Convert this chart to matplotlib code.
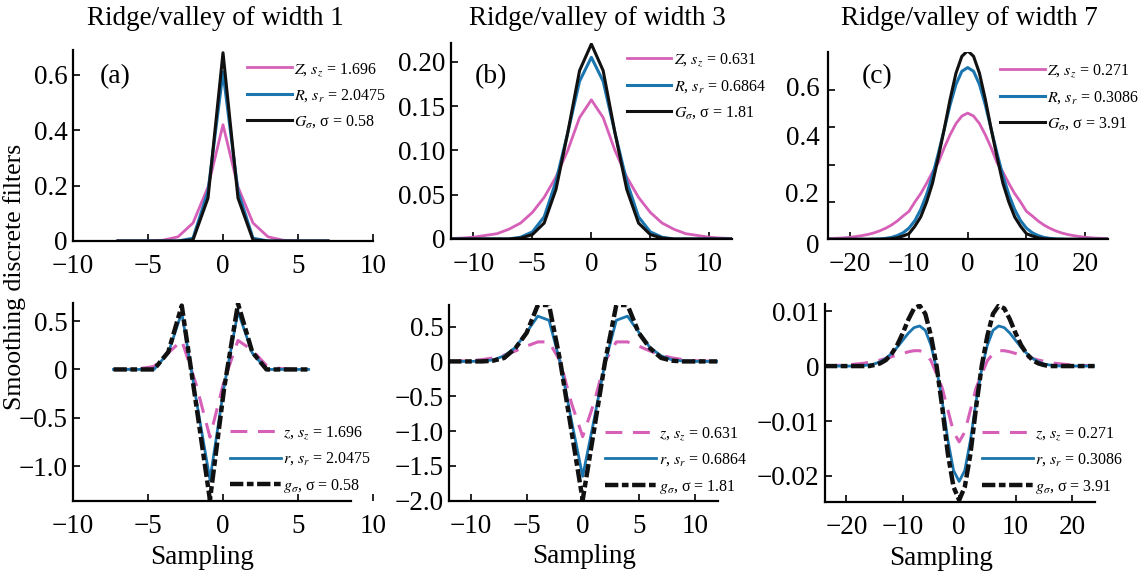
import numpy as np
import matplotlib.pyplot as plt

plt.rcParams['font.family'] = ['Liberation Serif', 'DejaVu Serif']
plt.rcParams['mathtext.fontset'] = 'stix'

PINK = '#d660b8'
BLUE = '#1b75ae'
BLACK = '#111111'

# ---- top row: smoothing filters ----
x_a = list(range(-7, 8))
Z_a = [0, 0, 0, 0.003, 0.015, 0.065, 0.195, 0.42, 0.195, 0.065, 0.015, 0.003, 0, 0, 0]
R_a = [0, 0, 0, 0, 0, 0.01, 0.18, 0.61, 0.18, 0.01, 0, 0, 0, 0, 0]
G_a = [0, 0, 0, 0, 0, 0.004, 0.155, 0.68, 0.155, 0.004, 0, 0, 0, 0, 0]

x_b = list(range(-12, 13))
Z_b = [0.0005, 0.001, 0.002, 0.004, 0.006, 0.011, 0.018, 0.03, 0.047, 0.07, 0.1, 0.137, 0.157,
       0.137, 0.1, 0.07, 0.047, 0.03, 0.018, 0.011, 0.006, 0.004, 0.002, 0.001, 0.0005]
R_b = [0, 0, 0, 0, 0, 0, 0.002, 0.008, 0.025, 0.065, 0.12, 0.178, 0.205,
       0.178, 0.12, 0.065, 0.025, 0.008, 0.002, 0, 0, 0, 0, 0, 0]
G_b = [0, 0, 0, 0, 0, 0, 0.001, 0.005, 0.018, 0.056, 0.12, 0.19, 0.22,
       0.19, 0.12, 0.056, 0.018, 0.005, 0.001, 0, 0, 0, 0, 0, 0]

x_c = list(range(-24, 25))
Z_c = [0.0004, 0.0005, 0.0006, 0.0008, 0.0011, 0.0015, 0.002, 0.0026, 0.0034, 0.0045, 0.0059,
       0.0076, 0.0098, 0.0125, 0.015, 0.02, 0.0245, 0.03, 0.036, 0.041, 0.049, 0.056, 0.062, 0.066,
       0.0676,
       0.066, 0.062, 0.056, 0.049, 0.041, 0.036, 0.03, 0.0245, 0.02, 0.015, 0.0125, 0.0098, 0.0076,
       0.0059, 0.0045, 0.0034, 0.0026, 0.002, 0.0015, 0.0011, 0.0008, 0.0006, 0.0005, 0.0004]
R_c = [0, 0, 0, 0, 0, 0, 0, 0, 0.0001, 0.0002, 0.0005, 0.001, 0.002, 0.0035, 0.006, 0.01, 0.016,
       0.024, 0.034, 0.046, 0.059, 0.072, 0.083, 0.09,
       0.092,
       0.09, 0.083, 0.072, 0.059, 0.046, 0.034, 0.024, 0.016, 0.01, 0.006, 0.0035, 0.002, 0.001,
       0.0005, 0.0002, 0.0001, 0, 0, 0, 0, 0, 0, 0, 0]
G_c = [0, 0, 0, 0, 0, 0, 0, 0, 0, 0, 0.0001, 0.0003, 0.0008, 0.0018, 0.003, 0.007, 0.012, 0.02,
       0.03, 0.044, 0.059, 0.075, 0.089, 0.098,
       0.101,
       0.098, 0.089, 0.075, 0.059, 0.044, 0.03, 0.02, 0.012, 0.007, 0.003, 0.0018, 0.0008, 0.0003,
       0.0001, 0, 0, 0, 0, 0, 0, 0, 0, 0, 0]

# ---- bottom row: second-derivative filters ----
xd_a = [-7.3, -6.4, -5.5, -4.6, -3.65, -2.75, -1.8, -0.87, 0.07, 1.0, 1.95, 2.9, 3.8, 4.75, 5.7]
z_a = [0, 0, 0.01, 0.03, 0.17, 0.3, -0.15, -0.7, -0.12, 0.3, 0.2, 0.04, 0.01, 0, 0]
r_a = [0, 0, 0, 0, 0.17, 0.59, -0.3, -1.14, -0.18, 0.6, 0.17, 0, 0, 0, 0]
g_a = [0, 0, 0, 0, 0.18, 0.66, -0.35, -1.35, -0.2, 0.68, 0.18, 0, 0, 0, 0]

xd_b = list(range(-12, 13))
z_b = [0, 0.005, 0.01, 0.025, 0.05, 0.09, 0.15, 0.22, 0.28, 0.28, 0.0, -0.6, -1.08,
       -0.6, 0.0, 0.28, 0.28, 0.22, 0.15, 0.09, 0.05, 0.025, 0.01, 0.005, 0]
r_b = [0, 0, 0, 0.005, 0.02, 0.08, 0.2, 0.42, 0.65, 0.59, -0.02, -0.85, -1.65,
       -0.85, -0.02, 0.59, 0.65, 0.42, 0.2, 0.08, 0.02, 0.005, 0, 0, 0]
g_b = [0, 0, 0, 0, 0.01, 0.05, 0.19, 0.41, 0.81, 0.81, 0.0, -1.0, -1.99,
       -1.0, 0.0, 0.81, 0.81, 0.41, 0.19, 0.05, 0.01, 0, 0, 0, 0]

xd_c = list(range(-24, 25))
z_c = [0, 0.0001, 0.0001, 0.00015, 0.0002, 0.0003, 0.0004, 0.0005, 0.0007, 0.0009, 0.0011, 0.0014,
       0.0017, 0.002, 0.0023, 0.0026, 0.0028, 0.0028, 0.0022, 0.001, -0.0015, -0.004, -0.008, -0.012,
       -0.0138,
       -0.012, -0.008, -0.004, -0.0015, 0.001, 0.0022, 0.0028, 0.0028, 0.0026, 0.0023, 0.002, 0.0017,
       0.0014, 0.0011, 0.0009, 0.0007, 0.0005, 0.0004, 0.0003, 0.0002, 0.00015, 0.0001, 0.0001, 0]
r_c = [0, 0, 0, 0, 0, 0, 0, 0.0001, 0.0002, 0.0004, 0.0008, 0.0014, 0.0023, 0.0034, 0.0047, 0.006,
       0.007, 0.0073, 0.0065, 0.0038, -0.0005, -0.0065, -0.0135, -0.019,
       -0.021,
       -0.019, -0.0135, -0.0065, -0.0005, 0.0038, 0.0065, 0.0073, 0.007, 0.006, 0.0047, 0.0034,
       0.0023, 0.0014, 0.0008, 0.0004, 0.0002, 0.0001, 0, 0, 0, 0, 0, 0, 0]
g_c = [0, 0, 0, 0, 0, 0, 0, 0, 0, 0.0002, 0.0005, 0.0011, 0.0022, 0.0038, 0.006, 0.0085, 0.0105,
       0.011, 0.0095, 0.0055, 0.0, -0.0075, -0.016, -0.022,
       -0.0244,
       -0.022, -0.016, -0.0075, 0.0, 0.0055, 0.0095, 0.011, 0.0105, 0.0085, 0.006, 0.0038, 0.0022,
       0.0011, 0.0005, 0.0002, 0, 0, 0, 0, 0, 0, 0, 0, 0]

titles = ['Ridge/valley of width 1', 'Ridge/valley of width 3', 'Ridge/valley of width 7']
panel_tags = ['(a)', '(b)', '(c)']
top_labels = [
    [r'$Z$, $s_z$ = 1.696', r'$R$, $s_r$ = 2.0475', r'$G_{\sigma}$, σ = 0.58'],
    [r'$Z$, $s_z$ = 0.631', r'$R$, $s_r$ = 0.6864', r'$G_{\sigma}$, σ = 1.81'],
    [r'$Z$, $s_z$ = 0.271', r'$R$, $s_r$ = 0.3086', r'$G_{\sigma}$, σ = 3.91'],
]
bot_labels = [
    [r'$z$, $s_z$ = 1.696', r'$r$, $s_r$ = 2.0475', r'$g_{\sigma}$, σ = 0.58'],
    [r'$z$, $s_z$ = 0.631', r'$r$, $s_r$ = 0.6864', r'$g_{\sigma}$, σ = 1.81'],
    [r'$z$, $s_z$ = 0.271', r'$r$, $s_r$ = 0.3086', r'$g_{\sigma}$, σ = 3.91'],
]

fig = plt.figure(figsize=(11.45, 5.71), dpi=100)

W, H = 1145.0, 571.0
def add_axes(x0, x1, ytop, ybot):
    return fig.add_axes([x0 / W, 1 - ybot / H, (x1 - x0) / W, (ybot - ytop) / H])

top_axes = [add_axes(73, 373, 50, 241), add_axes(451, 731.7, 42.7, 239), add_axes(827.7, 1108.3, 51.7, 239.3)]
bot_axes = [add_axes(73, 373, 302.7, 501), add_axes(449.3, 718.3, 305, 500.7), add_axes(825, 1095, 304, 502.3)]

TICK_FS = 19.5
for ax in top_axes + bot_axes:
    for s in ['top', 'right']:
        ax.spines[s].set_visible(False)
    ax.spines['left'].set_linewidth(1.6)
    ax.spines['bottom'].set_linewidth(1.6)
    ax.tick_params(direction='in', length=5, width=1.2, labelsize=TICK_FS, pad=4)
    ax.tick_params(axis='x', pad=9.5)

top_data = [(x_a, Z_a, R_a, G_a), (x_b, Z_b, R_b, G_b), (x_c, Z_c, R_c, G_c)]
bot_data = [(xd_a, z_a, r_a, g_a), (xd_b, z_b, r_b, g_b), (xd_c, z_c, r_c, g_c)]

top_leg_pos = [(0.58, 0.944), (0.626, 0.955), (0.614, 0.942)]
bot_leg_pos = [(0.523, 0.03), (0.579, 0.024), (0.58, 0.032)]
title_x = [215, 597.5, 969]

for i, ax in enumerate(top_axes):
    xs, Z, R, G = top_data[i]
    ax.plot(xs, Z, color=PINK, lw=2.0, label=top_labels[i][0])
    ax.plot(xs, R, color=BLUE, lw=2.2, label=top_labels[i][1])
    ax.plot(xs, G, color=BLACK, lw=2.2, label=top_labels[i][2])
    fig.text(title_x[i] / W, 1 - 25 / H, titles[i], fontsize=19.5, ha='center', va='baseline')
    ax.legend(loc='upper left', bbox_to_anchor=top_leg_pos[i], frameon=False,
              fontsize=11.5, handlelength=2.8, handletextpad=0.15, labelspacing=0.59,
              borderaxespad=0, borderpad=0)

for i, ax in enumerate(bot_axes):
    xs, z, r, g = bot_data[i]
    ax.plot(xs, z, color=PINK, lw=2.2, ls=(0, (5.5, 3.5)), label=bot_labels[i][0])
    ax.plot(xs, r, color=BLUE, lw=2.0, label=bot_labels[i][1])
    ax.plot(xs, g, color=BLACK, lw=3.2, ls=(0, (3, 0.8, 1.5, 0.8)), label=bot_labels[i][2])
    ax.set_xlabel('Sampling', fontsize=19.5)
    ax.legend(loc='lower left', bbox_to_anchor=bot_leg_pos[i], frameon=False,
              fontsize=11.5, handlelength=3.2, handletextpad=0.15, labelspacing=0.6,
              borderaxespad=0, borderpad=0)

# axis limits and ticks
ax = top_axes[0]
ax.set_xlim(-10, 10)
ax.set_ylim(0, 0.69)
ax.set_xticks([-10, -5, 0, 5, 10], ['−10', '−5', '0', '5', '10'])
ax.set_yticks([0, 0.2, 0.4, 0.6], ['0', '0.2', '0.4', '0.6'])

ax = top_axes[1]
ax.set_xlim(-11.9, 11.9)
ax.set_ylim(0, 0.2215)
ax.set_xticks([-10, -5, 0, 5, 10], ['−10', '−5', '0', '5', '10'])
ax.set_yticks([0, 0.05, 0.10, 0.15, 0.20], ['0', '0.05', '0.10', '0.15', '0.20'])

ax = top_axes[2]
ax.set_xlim(-23.85, 23.95)
ax.set_ylim(0, 0.1005)
ax.set_xticks([-20, -10, 0, 10, 20], ['−20', '−10', '0', '10', '20'])
ax.set_yticks([0, 0.02, 0.04, 0.06, 0.08], ['', '', '', '', ''])
c_label_pos = [-0.004, 0.0236, 0.0539, 0.0805]
c_label_txt = ['0', '0.2', '0.4', '0.6']
for yv, t in zip(c_label_pos, c_label_txt):
    ax.text(-0.03, yv, t, transform=ax.get_yaxis_transform(), ha='right', va='center',
            fontsize=TICK_FS, clip_on=False)

ax = bot_axes[0]
ax.set_xlim(-10, 10)
ax.set_ylim(-1.36, 0.69)
ax.spines['bottom'].set_bounds(-10, 8.5)
ax.set_xticks([-10, -5, 0, 5, 10], ['−10', '−5', '0', '5', '10'])
ax.set_yticks([-1.0, -0.5, 0, 0.5], ['−1.0', '−0.5', '0', '0.5'])
ax.xaxis.set_label_coords(0.43, -0.22)

ax = bot_axes[1]
ax.set_xlim(-11.9, 12.1)
ax.set_ylim(-2.0, 0.81)
ax.set_xticks([-10, -5, 0, 5, 10], ['−10', '−5', '0', '5', '10'])
ax.set_yticks([-2.0, -1.5, -1.0, -0.5, 0, 0.5], ['−2.0', '−1.5', '−1.0', '−0.5', '0', '0.5'])
ax.xaxis.set_label_coords(0.5, -0.22)

ax = bot_axes[2]
ax.set_xlim(-23.8, 24.1)
ax.set_ylim(-0.0248, 0.0113)
ax.set_xticks([-20, -10, 0, 10, 20], ['−20', '−10', '0', '10', '20'])
ax.set_yticks([-0.02, -0.01, 0, 0.01], ['−0.02', '−0.01', '0', '0.01'])
ax.xaxis.set_label_coords(0.43, -0.22)

# panel tags
tag_pos = [(0.09, 0.86), (0.085, 0.825), (0.122, 0.865)]
for ax, tag, (tx, ty) in zip(top_axes, panel_tags, tag_pos):
    ax.text(tx, ty, tag, transform=ax.transAxes, fontsize=20, va='center', ha='left')

fig.text(15 / W, 1 - 277 / H, 'Smoothing discrete filters', rotation=90, fontsize=18.5,
         ha='center', va='center')

fig.savefig('out.png', dpi=100)
